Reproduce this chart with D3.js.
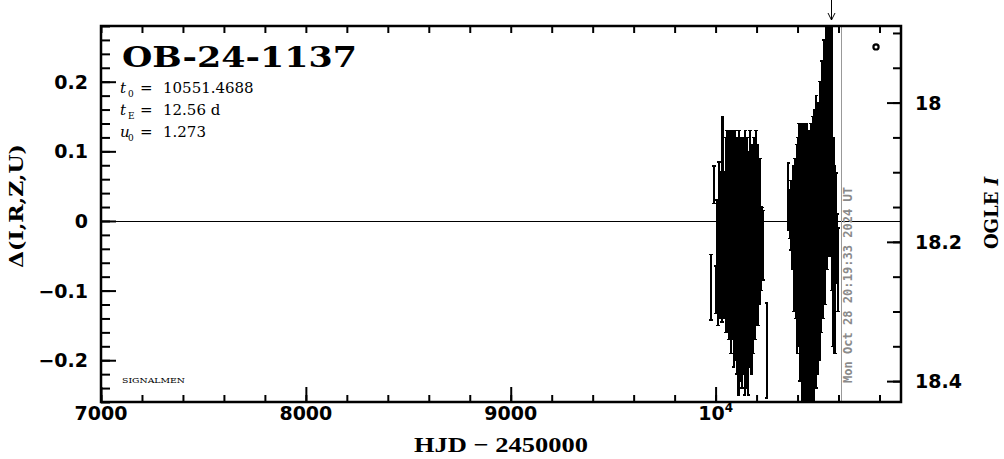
<!DOCTYPE html>
<html><head><meta charset="utf-8">
<script src="https://cdn.jsdelivr.net/npm/d3@7"></script>
<style>body{margin:0;background:#fff}svg{display:block}</style>
</head><body>
<svg id="c" width="1004" height="459"></svg>
<script>
// ---------------- data ----------------
const eventName = "OB-24-1137";
const paramSymbols = ["t", "t", "u"];
const paramSubs = ["0", "E", "0"];
const paramValues = ["10551.4688", "12.56 d", "1.273"];
const creditText = "SIGNALMEN";
const dateText = "Mon Oct 28 20:19:33 2024 UT";
const nowHjd = 10612.3;
const arrowHjd = 10564;
const baseMag = 18.17;

const xDomain = [7000, 10905];
const deltaDomain = [-0.26, 0.28];
const xMajorTicks = [7000, 8000, 9000, 10000];
const xTickLabels = ["7000", "8000", "9000", "10|4"];
const yMajorTicks = [-0.2, -0.1, 0, 0.1, 0.2];
const yTickLabels = ["\u22120.2", "\u22120.1", "0", "0.1", "0.2"];
const magMajorTicks = [18, 18.2, 18.4];
const magTickLabels = ["18", "18.2", "18.4"];

const markerHjd = [10783];
const markerDelta = [0.25];

const season1Hjd = [9978,9992,10001,10008,10013,10018,10022,10026,10030,10034,10038,10042,10045,10049,10052,10055,10058,10061,10064,10067,10070,10073,10076,10079,10082,10085,10088,10091,10094,10097,10100,10103,10106,10109,10112,10115,10118,10121,10124,10127,10130,10133,10136,10139,10142,10145,10148,10151,10154,10157,10160,10163,10166,10169,10172,10175,10178,10181,10184,10187,10190,10193,10196,10199,10202,10205,10208,10211,10214,10218,10222,10226,10230,10249];
const season1Delta = [-0.095,0.052,-0.099,-0.03,-0.08,0.03,-0.06,-0.02,-0.07,0.06,-0.04,-0.02,-0.05,0.02,-0.08,0.03,-0.06,0.0,-0.09,0.03,-0.05,0.04,-0.1,0.0,-0.07,0.02,-0.12,-0.03,0.03,-0.1,-0.01,-0.13,0.02,-0.06,-0.15,0.03,-0.08,-0.12,0.0,-0.05,-0.14,0.02,-0.1,-0.03,-0.16,0.03,-0.08,-0.13,0.01,-0.06,-0.15,-0.02,-0.11,0.03,-0.09,-0.13,0.0,-0.07,-0.1,0.02,-0.05,-0.08,0.03,-0.03,-0.06,0.0,-0.07,-0.02,-0.04,0.02,-0.04,-0.033,-0.035,-0.186];
const season1Err = [0.047,0.027,0.034,0.06,0.07,0.055,0.08,0.09,0.075,0.09,0.1,0.09,0.09,0.1,0.08,0.1,0.1,0.11,0.08,0.1,0.09,0.09,0.09,0.12,0.1,0.11,0.09,0.1,0.1,0.1,0.12,0.09,0.1,0.1,0.1,0.1,0.1,0.11,0.12,0.11,0.1,0.1,0.12,0.1,0.09,0.1,0.11,0.11,0.11,0.1,0.1,0.12,0.1,0.1,0.1,0.09,0.11,0.1,0.09,0.1,0.1,0.09,0.1,0.1,0.09,0.11,0.08,0.1,0.08,0.07,0.06,0.052,0.05,0.068];

const season2Hjd = [10355,10362,10368,10375,10380,10384,10388,10392,10396,10399,10402,10405,10408,10411,10414,10417,10420,10423,10426,10429,10432,10435,10438,10441,10444,10447,10450,10453,10456,10459,10462,10465,10468,10471,10474,10477,10480,10483,10486,10489,10492,10495,10498,10501,10504,10507,10510,10513,10516,10519,10522,10525,10528,10531,10534,10537,10540,10543,10546,10549,10552,10555,10558,10561,10564,10567,10570,10573,10576,10580,10584,10587,10592,10597];
const season2Delta = [0.035,0.01,0.008,-0.01,0.02,-0.06,0.01,-0.05,0.03,-0.1,0.02,-0.08,0.04,-0.13,-0.02,0.03,-0.15,-0.05,0.04,-0.17,-0.08,0.03,-0.16,-0.04,0.02,-0.18,-0.08,0.03,-0.15,-0.02,-0.19,0.04,-0.1,-0.16,0.05,-0.06,-0.14,0.06,-0.03,-0.13,0.07,-0.05,-0.12,0.06,-0.02,-0.1,0.09,0.0,-0.06,0.12,0.02,-0.04,0.14,0.05,-0.02,0.19,0.1,0.02,0.22,0.14,0.05,0.24,0.12,0.03,0.2,-0.02,0.15,-0.08,0.04,-0.055,-0.12,0.026,-0.04,-0.07];
const season2Err = [0.048,0.035,0.05,0.06,0.06,0.07,0.08,0.09,0.08,0.09,0.1,0.1,0.1,0.1,0.11,0.11,0.11,0.1,0.1,0.1,0.12,0.11,0.11,0.1,0.12,0.1,0.11,0.1,0.12,0.12,0.11,0.1,0.12,0.1,0.1,0.12,0.12,0.1,0.11,0.11,0.11,0.12,0.1,0.11,0.12,0.1,0.11,0.12,0.1,0.11,0.11,0.1,0.12,0.11,0.1,0.12,0.1,0.09,0.12,0.1,0.1,0.12,0.13,0.08,0.12,0.08,0.14,0.1,0.08,0.135,0.07,0.043,0.05,0.06];

// ---------------- layout ----------------
const F = {l: 101, r: 901, t: 26, b: 402};
const svg = d3.select("#c");
const x = d3.scaleLinear().domain(xDomain).range([F.l, F.r]);
const y = d3.scaleLinear().domain(deltaDomain).range([F.b, F.t]);
const yR = d3.scaleLinear().domain([baseMag - deltaDomain[0], baseMag - deltaDomain[1]]).range([F.b, F.t]);

const xMinor = d3.range(7000, 10901, 200);
const yMinor = d3.range(-26, 29, 2).map(v => v / 100);
const magMinor = d3.range(1790, 1843, 5).map(v => v / 100);

svg.append("defs").append("clipPath").attr("id", "clip")
  .append("rect").attr("x", F.l).attr("y", F.t).attr("width", F.r - F.l).attr("height", F.b - F.t);

// zero line
svg.append("line").attr("x1", F.l).attr("x2", F.r).attr("y1", Math.round(y(0)) + 0.5).attr("y2", Math.round(y(0)) + 0.5)
  .attr("stroke", "#000").attr("stroke-width", 1).attr("shape-rendering", "crispEdges");

// now line
svg.append("line").attr("x1", x(nowHjd)).attr("x2", x(nowHjd)).attr("y1", F.t).attr("y2", F.b)
  .attr("stroke", "#999").attr("stroke-width", 1).attr("shape-rendering", "crispEdges");

// date text
svg.append("text")
  .attr("transform", `translate(${x(nowHjd) + 11},${F.b - 19}) rotate(-90)`)
  .attr("font-family", "DejaVu Sans Mono").attr("font-weight", "bold").attr("font-size", 11.5)
  .attr("fill", "#8a8a8a").attr("textLength", 196).attr("lengthAdjust", "spacingAndGlyphs")
  .text(dateText);

// error bars
const pts = [];
season1Hjd.forEach((h, i) => pts.push({h, d: season1Delta[i], e: season1Err[i]}));
season2Hjd.forEach((h, i) => pts.push({h, d: season2Delta[i], e: season2Err[i]}));
const gd = svg.append("g").attr("clip-path", "url(#clip)").attr("stroke", "#000")
  .attr("stroke-width", 2.2).attr("shape-rendering", "crispEdges");
const bars = gd.selectAll("g.p").data(pts).join("g").attr("class", "p");
bars.append("line").attr("x1", d => x(d.h)).attr("x2", d => x(d.h))
  .attr("y1", d => y(d.d - d.e)).attr("y2", d => y(d.d + d.e));
bars.append("line").attr("x1", d => x(d.h) - 1.8).attr("x2", d => x(d.h) + 1.8)
  .attr("y1", d => y(d.d - d.e)).attr("y2", d => y(d.d - d.e)).attr("stroke-width", 1.5);
bars.append("line").attr("x1", d => x(d.h) - 1.8).attr("x2", d => x(d.h) + 1.8)
  .attr("y1", d => y(d.d + d.e)).attr("y2", d => y(d.d + d.e)).attr("stroke-width", 1.5);

// marker
svg.selectAll("circle.m").data(markerHjd).join("circle").attr("class", "m")
  .attr("cx", d => x(d)).attr("cy", (d, i) => y(markerDelta[i])).attr("r", 2.6)
  .attr("fill", "none").attr("stroke", "#000").attr("stroke-width", 2.2);

// arrow
const ax = Math.round(x(arrowHjd)) + 0.5;
svg.append("path").attr("d", `M${ax},0 L${ax},20 M${ax - 3.5},13 L${ax},20 L${ax + 3.5},13`)
  .attr("fill", "none").attr("stroke", "#000").attr("stroke-width", 1);

// axes ticks
function styleAxis(g) {
  g.select(".domain").remove();
  g.selectAll("line").attr("stroke", "#000").attr("stroke-width", 2);
  g.selectAll("text").remove();
}
svg.append("g").attr("transform", `translate(0,${F.b})`)
  .call(d3.axisBottom(x).tickValues(xMinor).tickSize(-7).tickFormat("")).call(styleAxis);
svg.append("g").attr("transform", `translate(0,${F.b})`)
  .call(d3.axisBottom(x).tickValues(xMajorTicks).tickSize(-15).tickFormat("")).call(styleAxis);
svg.append("g").attr("transform", `translate(0,${F.t})`)
  .call(d3.axisTop(x).tickValues(xMinor).tickSize(-7).tickFormat("")).call(styleAxis);
svg.append("g").attr("transform", `translate(${F.l},0)`)
  .call(d3.axisLeft(y).tickValues(yMinor).tickSize(-9).tickFormat("")).call(styleAxis);
svg.append("g").attr("transform", `translate(${F.l},0)`)
  .call(d3.axisLeft(y).tickValues(yMajorTicks).tickSize(-15).tickFormat("")).call(styleAxis);
svg.append("g").attr("transform", `translate(${F.r},0)`)
  .call(d3.axisRight(yR).tickValues(magMinor).tickSize(-8).tickFormat("")).call(styleAxis);
svg.append("g").attr("transform", `translate(${F.r},0)`)
  .call(d3.axisRight(yR).tickValues(magMajorTicks).tickSize(-14).tickFormat("")).call(styleAxis);

// frame
svg.append("rect").attr("x", F.l).attr("y", F.t).attr("width", F.r - F.l).attr("height", F.b - F.t)
  .attr("fill", "none").attr("stroke", "#000").attr("stroke-width", 2.5);

// tick labels
const lblFont = {family: "DejaVu Sans", size: 19};
svg.selectAll("text.yl").data(yMajorTicks).join("text").attr("class", "yl")
  .attr("x", 88).attr("y", d => y(d) + 7).attr("text-anchor", "end")
  .attr("font-family", lblFont.family).attr("font-weight", "bold").attr("font-size", lblFont.size)
  .text((d, i) => yTickLabels[i]);
svg.selectAll("text.rl").data(magMajorTicks).join("text").attr("class", "rl")
  .attr("x", 915).attr("y", d => yR(d) + 7).attr("text-anchor", "start")
  .attr("font-family", lblFont.family).attr("font-weight", "bold").attr("font-size", lblFont.size)
  .text((d, i) => magTickLabels[i]);
const xl = svg.selectAll("text.xl").data(xMajorTicks).join("text").attr("class", "xl")
  .attr("x", d => x(d)).attr("y", 420).attr("text-anchor", "middle")
  .attr("font-family", lblFont.family).attr("font-weight", "bold").attr("font-size", lblFont.size);
xl.each(function (d, i) {
  const parts = xTickLabels[i].split("|");
  const t = d3.select(this);
  t.append("tspan").text(parts[0]);
  if (parts[1]) t.append("tspan").attr("dy", -8).attr("font-size", 12).text(parts[1]);
});

// title
svg.append("text").attr("x", 122).attr("y", 67)
  .attr("font-family", "DejaVu Serif").attr("font-weight", "bold").attr("font-size", 28)
  .attr("textLength", 235).attr("lengthAdjust", "spacingAndGlyphs").text(eventName);

// parameters
paramSymbols.forEach((s, i) => {
  const by = 93 + i * 22;
  const g = svg.append("g").attr("font-family", "DejaVu Serif").attr("fill", "#000");
  g.append("text").attr("x", 120).attr("y", by).attr("font-size", 15).attr("font-style", "italic").text(s);
  g.append("text").attr("x", 128).attr("y", by + 4).attr("font-size", 9).text(paramSubs[i]);
  g.append("text").attr("x", 140).attr("y", by).attr("font-size", 15).text("=");
  g.append("text").attr("x", 163).attr("y", by).attr("font-size", 15).text(paramValues[i]);
});

svg.append("text").attr("x", 122).attr("y", 383)
  .attr("font-family", "DejaVu Serif").attr("font-size", 8)
  .attr("textLength", 63).attr("lengthAdjust", "spacingAndGlyphs").text(creditText);

// axis titles
svg.append("text").attr("x", 501).attr("y", 452).attr("text-anchor", "middle")
  .attr("font-family", "Liberation Serif").attr("font-weight", "bold").attr("font-size", 22)
  .attr("textLength", 174).attr("lengthAdjust", "spacingAndGlyphs").text("HJD \u2212 2450000");
svg.append("text").attr("transform", "translate(23,206) rotate(-90)").attr("text-anchor", "middle")
  .attr("font-family", "DejaVu Serif").attr("font-weight", "bold").attr("font-size", 19)
  .attr("textLength", 124).attr("lengthAdjust", "spacingAndGlyphs").text("\u0394(I,R,Z,U)");
const rt = svg.append("text").attr("transform", "translate(998,213) rotate(-90)").attr("text-anchor", "middle")
  .attr("font-family", "DejaVu Serif").attr("font-weight", "bold").attr("font-size", 18);
rt.append("tspan").text("OGLE ");
rt.append("tspan").attr("font-style", "italic").text("I");
</script>
</body></html>
